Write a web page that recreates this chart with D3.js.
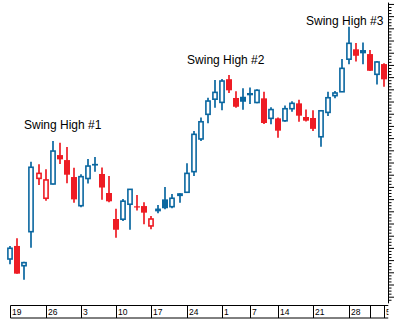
<!DOCTYPE html>
<html>
<head>
<meta charset="utf-8">
<script src="https://cdn.jsdelivr.net/npm/d3@7"></script>
<style>
  html, body { margin: 0; padding: 0; background: #fff; }
  svg { display: block; }
</style>
</head>
<body>
<svg id="chart" width="400" height="327"></svg>
<script>
// Daily OHLC prices, one entry per trading day
const openP = [23.09,24.16,22.54,25.33,29.70,28.07,29.24,31.61,31.20,29.81,
               27.46,29.69,30.89,30.06,28.50,26.37,26.35,27.58,27.41,27.43,
               25.80,27.11,27.98,27.38,28.31,28.56,30.25,32.93,34.95,36.19,
               35.93,37.83,36.29,36.39,36.70,35.92,36.26,34.62,34.62,34.42,
               35.41,35.85,34.73,34.65,33.11,35.11,36.48,36.80,39.47,40.28,
               40.22,39.89,38.23,39.07];
const highP = [24.16,24.79,22.87,31.07,30.85,30.44,32.76,32.62,32.27,30.57,
               30.03,31.29,31.45,30.59,29.89,27.20,28.01,28.83,28.34,27.74,
               26.61,27.52,28.99,28.42,28.48,30.93,33.58,34.69,36.31,37.76,
               37.84,38.17,36.84,37.08,37.15,37.00,36.80,35.53,34.70,35.67,
               36.02,36.15,35.34,35.28,35.24,36.80,36.86,39.48,42.13,40.80,
               40.84,40.22,39.32,39.13];
const lowP  = [22.66,21.88,21.39,24.02,29.16,27.87,29.20,30.88,29.30,27.70,
               27.33,29.28,30.25,27.95,27.74,24.84,26.20,25.49,27.07,25.93,
               25.52,26.84,27.16,27.25,27.70,28.50,29.89,32.76,34.21,35.48,
               35.28,36.70,35.49,35.33,35.80,35.85,34.16,34.13,33.03,34.34,
               35.16,34.34,34.36,33.58,32.30,34.81,36.26,36.78,39.05,39.28,
               39.05,38.50,37.39,37.21];
const closeP = [23.97,21.89,22.79,30.61,30.11,29.57,31.94,31.26,30.00,27.98,
                29.84,30.71,30.75,28.95,27.82,25.49,27.83,28.80,27.33,26.89,
                26.37,27.16,27.25,28.07,28.42,30.11,33.31,34.34,36.04,36.75,
                37.68,36.92,35.57,35.98,36.51,36.92,34.24,35.34,33.61,35.41,
                35.85,34.84,34.43,33.76,35.24,36.31,36.70,38.72,40.77,39.75,
                39.95,38.52,39.24,37.82];

// Week markers on the date strip: first trading day index and its label
const weekStart = [0, 5, 10, 15, 20, 25, 30, 34, 38, 43, 48, 51, 53];
const weekLabel = ["19", "26", "3", "10", "17", "24", "1", "7", "14", "21", "28", "", "5"];

// Swing-high annotations and the day each one marks
const swingText = ["Swing High #1", "Swing High #2", "Swing High #3"];
const swingDay  = [6, 31, 48];

const BLUE = "#0a67a0";
const RED  = "#ee1c24";

const svg = d3.select("#chart");
const n = openP.length;
const plotRight = 388;

const x = d3.scalePoint().domain(d3.range(n)).range([10.3, 384]);
const y = d3.scaleLinear().domain([19.5, 44.15]).range([302.8, 2.1]);

const candles = d3.range(n).map(i => ({
  i,
  o: openP[i], h: highP[i], l: lowP[i], c: closeP[i],
  up: i === 0 ? closeP[i] >= openP[i] : closeP[i] >= closeP[i - 1],
  filled: closeP[i] < openP[i]
}));

// Right price axis: whole units with quarter-step minor ticks
const majors = d3.range(20, 45);
const minors = d3.range(19.75, 44.01, 0.25).filter(v => Math.abs(v - Math.round(v)) > 1e-6);

svg.append("g")
  .attr("transform", `translate(${plotRight},0)`)
  .call(d3.axisRight(y).tickValues(minors).tickSize(3.5).tickSizeOuter(0).tickFormat(""))
  .call(g => g.select(".domain").remove())
  .call(g => g.selectAll("line").attr("stroke", "#000"));

svg.append("g")
  .attr("transform", `translate(${plotRight},0)`)
  .call(d3.axisRight(y).tickValues(majors).tickSize(6).tickSizeOuter(0).tickFormat(""))
  .call(g => g.select(".domain").attr("stroke", "#000"))
  .call(g => g.selectAll("line").attr("stroke", "#000"));

// Candles
const cg = svg.append("g");
const cx = d => Math.round(x(d.i));

cg.selectAll("line.wick")
  .data(candles)
  .join("line")
  .attr("class", "wick")
  .attr("x1", cx).attr("x2", cx)
  .attr("y1", d => y(d.h))
  .attr("y2", d => y(d.l))
  .attr("stroke", d => d.up ? BLUE : RED)
  .attr("stroke-width", 1.7);

cg.selectAll("rect.body")
  .data(candles)
  .join("rect")
  .attr("class", "body")
  .attr("x", d => d.filled ? cx(d) - 3 : cx(d) - 2.1)
  .attr("width", d => d.filled ? 6 : 4.2)
  .attr("y", d => y(Math.max(d.o, d.c)))
  .attr("height", d => Math.max(1.2, Math.abs(y(d.o) - y(d.c))))
  .attr("fill", d => d.filled ? (d.up ? BLUE : RED) : "#fff")
  .attr("stroke", d => d.filled ? "none" : (d.up ? BLUE : RED))
  .attr("stroke-width", 1.6);

// Swing-high annotations, placed relative to the marked day's high
const swingOffset = [[-28.6, -12], [-41.8, -11], [-42.7, -2]];
svg.selectAll("text.swing")
  .data(swingText)
  .join("text")
  .attr("class", "swing")
  .attr("x", (t, k) => x(swingDay[k]) + swingOffset[k][0])
  .attr("y", (t, k) => y(highP[swingDay[k]]) + swingOffset[k][1])
  .attr("font-family", "'Liberation Sans', Arial, sans-serif")
  .attr("font-size", 12)
  .attr("fill", "#000")
  .text(t => t);

// Date strip along the bottom
const boxTop = 305.5, boxH = 12.5;
svg.append("clipPath").attr("id", "stripClip")
  .append("rect").attr("x", 0).attr("y", 290).attr("width", plotRight + 0.5).attr("height", 40);

const strip = svg.append("g").attr("clip-path", "url(#stripClip)");
const sx = i => Math.round(x(i)) + 0.5;

strip.append("line")
  .attr("x1", sx(0)).attr("x2", plotRight + 0.5)
  .attr("y1", boxTop).attr("y2", boxTop)
  .attr("stroke", "#000");
strip.append("line")
  .attr("x1", sx(0)).attr("x2", plotRight + 0.5)
  .attr("y1", boxTop + boxH).attr("y2", boxTop + boxH)
  .attr("stroke", "#000");

strip.selectAll("line.sep")
  .data(weekStart)
  .join("line")
  .attr("class", "sep")
  .attr("x1", d => sx(d)).attr("x2", d => sx(d))
  .attr("y1", boxTop).attr("y2", boxTop + boxH)
  .attr("stroke", "#000");

strip.selectAll("text.wk")
  .data(weekStart)
  .join("text")
  .attr("class", "wk")
  .attr("x", d => sx(d) + 1.5)
  .attr("y", boxTop + 9)
  .attr("font-family", "'Liberation Sans', Arial, sans-serif")
  .attr("font-size", 8.5)
  .attr("fill", "#000")
  .text((d, k) => weekLabel[k]);
</script>
</body>
</html>
